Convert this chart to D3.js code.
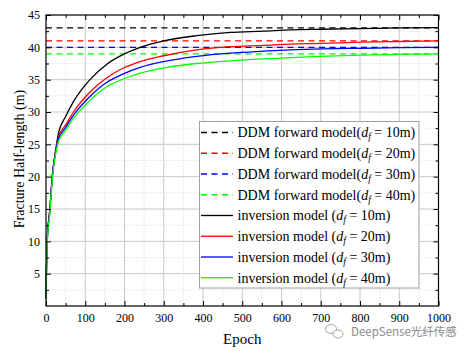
<!DOCTYPE html>
<html><head><meta charset="utf-8">
<script src="https://cdn.jsdelivr.net/npm/d3@7"></script>
<style>body{margin:0;background:#fff}svg{display:block}</style></head>
<body>
<script>
// ---- data ----
const epochs   = [0, 3, 10, 16, 27, 31, 50, 70, 112, 155, 197, 240, 300, 384, 469, 554, 622, 700, 800, 900, 1000];
const inv10m   = [1.3, 10, 15, 20, 25.0, 26.5, 29.3, 31.6, 35.0, 37.4, 38.9, 40.0, 41.0, 41.8, 42.3, 42.5, 42.7, 42.8, 42.9, 43.0, 43.05];
const inv20m   = [1.2, 10, 15, 20, 24.8, 26.0, 28.0, 30.0, 33.1, 35.3, 36.8, 37.8, 38.7, 39.6, 40.1, 40.3, 40.5, 40.6, 40.8, 40.9, 41.0];
const inv30m   = [1.2, 10, 15, 20, 24.6, 25.7, 27.6, 29.5, 32.4, 34.6, 35.9, 36.9, 37.8, 38.6, 39.1, 39.4, 39.6, 39.75, 39.85, 39.95, 40.0];
const inv40m   = [1.0, 9.5, 14.5, 19.5, 24.3, 25.3, 27.2, 29.0, 31.8, 33.9, 35.1, 36.0, 36.8, 37.5, 37.9, 38.2, 38.4, 38.6, 38.8, 38.9, 39.0];
const forwardValues = [43, 41, 40, 39];
const depthLabels   = ["10m", "20m", "30m", "40m"];
const xTickValues = [0, 100, 200, 300, 400, 500, 600, 700, 800, 900, 1000];
const yTickValues = [5, 10, 15, 20, 25, 30, 35, 40, 45];

const colors = ["#000000", "#ff0000", "#0000ff", "#00ff00"];
const inversion = [inv10m, inv20m, inv30m, inv40m];

const SERIF = "'Liberation Serif','Times New Roman',serif";
const W = 467, H = 352;
const L = 46, R = 438.5, T = 15, B = 306;
const x = d3.scaleLinear().domain([0, 1000]).range([L, R]);
const y = d3.scaleLinear().domain([0, 45]).range([B, T]);

const svg = d3.select("body").append("svg").attr("width", W).attr("height", H)
  .style("font-family", SERIF);
svg.append("rect").attr("width", W).attr("height", H).attr("fill", "#fff");

// grid
const minorX = d3.range(50, 1000, 100);
const minorY = d3.range(2.5, 45, 5);
const g = svg.append("g");
g.selectAll(".mx").data(minorX).join("line")
  .attr("x1", d => x(d)).attr("x2", d => x(d)).attr("y1", T).attr("y2", B)
  .attr("stroke", "#dcdcdc").attr("stroke-width", 0.8).attr("stroke-dasharray", "1.5,1.5");
g.selectAll(".my").data(minorY).join("line")
  .attr("y1", d => y(d)).attr("y2", d => y(d)).attr("x1", L).attr("x2", R)
  .attr("stroke", "#dcdcdc").attr("stroke-width", 0.8).attr("stroke-dasharray", "1.5,1.5");
g.selectAll(".gx").data(xTickValues.slice(1, -1)).join("line")
  .attr("x1", d => x(d)).attr("x2", d => x(d)).attr("y1", T).attr("y2", B)
  .attr("stroke", "#c8c8c8").attr("stroke-width", 1);
g.selectAll(".gy").data(yTickValues.slice(0, -1)).join("line")
  .attr("y1", d => y(d)).attr("y2", d => y(d)).attr("x1", L).attr("x2", R)
  .attr("stroke", "#c8c8c8").attr("stroke-width", 1);

// forward (dashed) lines
svg.append("g").selectAll("line").data(forwardValues).join("line")
  .attr("x1", x(0)).attr("x2", x(1000)).attr("y1", d => y(d)).attr("y2", d => y(d))
  .attr("stroke", (d, i) => colors[i]).attr("stroke-width", 1.3).attr("stroke-dasharray", "6,4.5");

// inversion curves
const line = d3.line().x((d, i) => x(epochs[i])).y(d => y(d)).curve(d3.curveMonotoneX);
svg.append("g").selectAll("path").data(inversion).join("path")
  .attr("d", d => line(d)).attr("fill", "none")
  .attr("stroke", (d, i) => colors[i]).attr("stroke-width", 1.3);

// axes
function styleAxis(sel) {
  sel.attr("font-family", SERIF);
  sel.select(".domain").remove();
  sel.selectAll("line").attr("stroke", "#000");
  sel.selectAll("text").attr("fill", "#000").attr("font-family", SERIF)
    .style("font-size", "12px").style("font-family", SERIF);
}
const fmt = d3.format("d");
const ax = svg.append("g").attr("transform", `translate(0,${B})`)
  .call(d3.axisBottom(x).tickValues(xTickValues).tickFormat(fmt).tickSize(-5).tickSizeOuter(0).tickPadding(7));
styleAxis(ax);
const axm = svg.append("g").attr("transform", `translate(0,${B})`)
  .call(d3.axisBottom(x).tickValues(minorX).tickSize(-3).tickFormat(""));
styleAxis(axm);
const at = svg.append("g").attr("transform", `translate(0,${T})`)
  .call(d3.axisTop(x).tickValues(xTickValues).tickSize(-5).tickFormat(""));
styleAxis(at);
const atm = svg.append("g").attr("transform", `translate(0,${T})`)
  .call(d3.axisTop(x).tickValues(minorX).tickSize(-3).tickFormat(""));
styleAxis(atm);
const ay = svg.append("g").attr("transform", `translate(${L},0)`)
  .call(d3.axisLeft(y).tickValues(yTickValues).tickFormat(fmt).tickSize(-5).tickPadding(6));
styleAxis(ay);
const aym = svg.append("g").attr("transform", `translate(${L},0)`)
  .call(d3.axisLeft(y).tickValues(minorY).tickSize(-3).tickFormat(""));
styleAxis(aym);
const ar = svg.append("g").attr("transform", `translate(${R},0)`)
  .call(d3.axisRight(y).tickValues(yTickValues).tickSize(-5).tickFormat(""));
styleAxis(ar);
const arm = svg.append("g").attr("transform", `translate(${R},0)`)
  .call(d3.axisRight(y).tickValues(minorY).tickSize(-3).tickFormat(""));
styleAxis(arm);

svg.append("rect").attr("x", L).attr("y", T).attr("width", R - L).attr("height", B - T)
  .attr("fill", "none").attr("stroke", "#000").attr("stroke-width", 1.2);

// axis titles
svg.append("text").attr("x", x(500)).attr("y", 344).attr("text-anchor", "middle")
  .style("font-size", "15px").text("Epoch");
svg.append("text").attr("transform", `translate(19,${(T + B) / 2 - 1.5}) rotate(-90)`)
  .attr("text-anchor", "middle").attr("dominant-baseline", "central")
  .style("font-size", "14px").text("Fracture Half-length (m)");

// legend
const lg = svg.append("g");
lg.append("rect").attr("x", 199.5).attr("y", 121.5).attr("width", 219.5).attr("height", 166.5)
  .attr("fill", "#fff").attr("stroke", "#a0a0a0").attr("stroke-width", 1);
const items = [];
depthLabels.forEach((d, i) => items.push({pre: "DDM forward model(", val: d, color: colors[i], dash: true}));
depthLabels.forEach((d, i) => items.push({pre: "inversion model (", val: d, color: colors[i], dash: false}));
items.forEach((it, i) => {
  const yy = 132.5 + i * 20.75;
  lg.append("line").attr("x1", 201).attr("x2", 233).attr("y1", yy).attr("y2", yy)
    .attr("stroke", it.color).attr("stroke-width", 1.3)
    .attr("stroke-dasharray", it.dash ? "6,4.5" : null);
  const t = lg.append("text").attr("x", 237.5).attr("y", yy + 4.8).style("font-size", "14px");
  t.append("tspan").text(it.pre);
  t.append("tspan").style("font-style", "italic").text("d");
  t.append("tspan").style("font-style", "italic").style("font-size", "9.5px").attr("dy", 3).text("f");
  t.append("tspan").attr("dy", -3).text(" = " + it.val + ")");
});

// watermark
const wm = svg.append("g").attr("stroke", "#9a9a9a").attr("fill", "none").attr("stroke-width", 0.9);
wm.append("ellipse").attr("cx", 331).attr("cy", 329).attr("rx", 5.5).attr("ry", 4.5);
wm.append("ellipse").attr("cx", 338).attr("cy", 334).attr("rx", 5).attr("ry", 4).attr("fill", "#fff");
svg.append("text").attr("x", 351).attr("y", 336).attr("fill", "#8a8a8a")
  .style("font-family", "'Noto Sans CJK SC','Noto Sans',sans-serif").style("font-size", "11.5px")
  .text("DeepSense光纤传感");
</script>
</body></html>
